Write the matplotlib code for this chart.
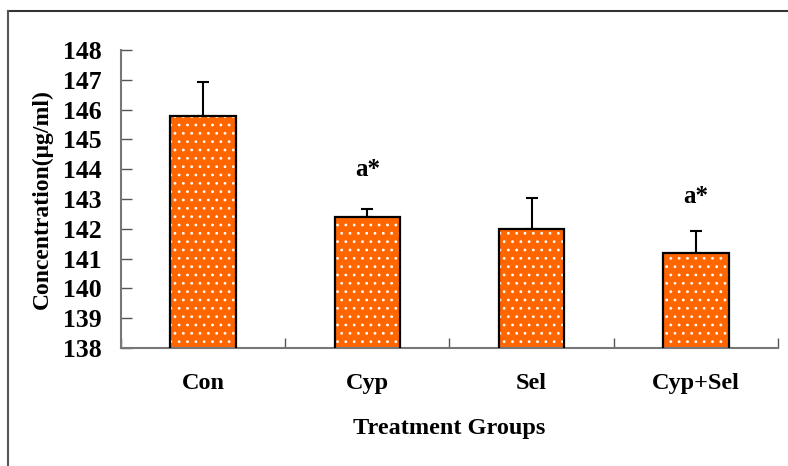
import matplotlib
matplotlib.use('Agg')
import matplotlib.pyplot as plt
from matplotlib.lines import Line2D
import numpy as np

# data
groups = ['Con', 'Cyp', 'Sel', 'Cyp+Sel']
means = [145.8, 142.4, 142.0, 141.2]
errs = [1.12, 0.25, 1.05, 0.72]
marks = ['', 'a*', '', 'a*']
mark_y = [0, 144.0, 0, 143.1]

plt.rcParams['font.family'] = ['Liberation Serif', 'DejaVu Serif']
plt.rcParams['font.weight'] = 'bold'
plt.rcParams['hatch.linewidth'] = 0.8

fig = plt.figure(figsize=(7.88, 4.66), dpi=100)
ax = fig.add_axes([121/788, 1 - 348/466, 657/788, 298/466])

x = np.arange(len(groups))
# orange fill with white dots, then black outline on top
ax.bar(x, means, width=0.4, bottom=0, color='#FF6600', edgecolor='white',
       hatch='..', linewidth=0, zorder=2)
ax.bar(x, means, width=0.4, bottom=0, facecolor='none', edgecolor='black',
       linewidth=1.6, zorder=3)
ax.errorbar(x, means, yerr=[np.zeros(len(errs)), errs], fmt='none',
            ecolor='black', elinewidth=1.5, capsize=4, capthick=1.5, zorder=1)

for xi, m, my in zip(x, marks, mark_y):
    if m:
        ax.text(xi, my, m, ha='center', va='center', fontsize=18, fontweight='bold')

ax.set_xlim(-0.5, len(groups) - 0.5)
ax.set_ylim(138, 148)
ax.set_yticks(range(138, 149))
ax.tick_params(axis='y', direction='in', length=8, width=1, color='#555555',
               labelsize=18.5, pad=14)

# boundary ticks (major) and centred labels (minor)
ax.set_xticks(np.arange(-0.5, len(groups), 1.0))
ax.set_xticklabels([])
ax.tick_params(axis='x', which='major', direction='in', length=7, width=1, color='#555555')
ax.set_xticks(x, minor=True)
ax.set_xticklabels(groups, minor=True)
ax.tick_params(axis='x', which='minor', length=0, labelsize=17.5, pad=18)

for s in ['top', 'right']:
    ax.spines[s].set_visible(False)
for s in ['left', 'bottom']:
    ax.spines[s].set_color('#777777')
    ax.spines[s].set_linewidth(1.5)

ax.set_xlabel('Treatment Groups', fontsize=17.5, fontweight='bold', labelpad=17)
ax.set_ylabel('Concentration(μg/ml)', fontsize=17, fontweight='bold', labelpad=7)

# outer frame (only top and left edges visible)
fig.add_artist(Line2D([8/788, 1], [1 - 11/466, 1 - 11/466], transform=fig.transFigure,
                      color='#333333', linewidth=1.5))
fig.add_artist(Line2D([8/788, 8/788], [0, 1 - 11/466], transform=fig.transFigure,
                      color='#555555', linewidth=1.5))

fig.savefig('out.png', dpi=100, facecolor='white')
